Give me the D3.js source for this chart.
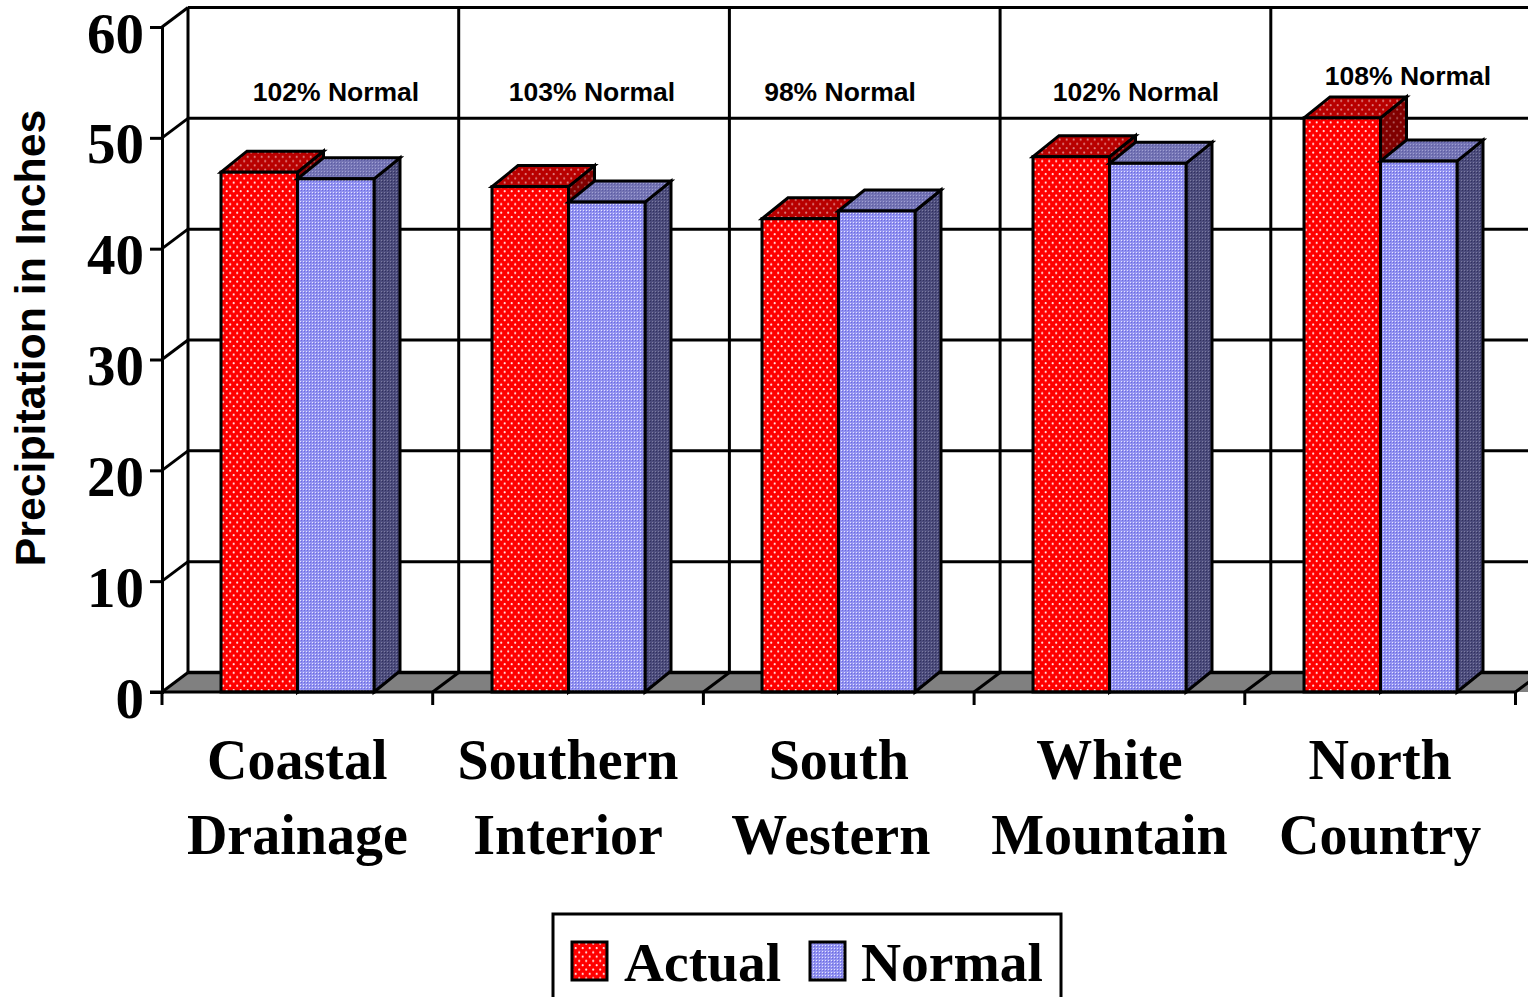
<!DOCTYPE html>
<html>
<head>
<meta charset="utf-8">
<script src="https://cdn.jsdelivr.net/npm/d3@7"></script>
<style>
  html, body { margin: 0; padding: 0; background: #fff; overflow: hidden; }
  svg { display: block; }
</style>
</head>
<body>
<div id="chart"></div>
<script>
// data
const regions = [["Coastal", "Drainage"], ["Southern", "Interior"], ["South", "Western"], ["White", "Mountain"], ["North", "Country"]];
const actual = [46.9, 45.6, 42.7, 48.3, 51.8];
const normal = [46.3, 44.2, 43.4, 47.7, 47.9];
const notes = ["102% Normal", "103% Normal", "98% Normal", "102% Normal", "108% Normal"];
const yTicks = [0, 10, 20, 30, 40, 50, 60];
const seriesNames = ["Actual", "Normal"];

// layout
const width = 1528, height = 997;
const depthX = 26, depthY = 19.5, barDepthY = 21;
const lineW = 3;
const serif = "'Liberation Serif', serif", sans = "'Liberation Sans', sans-serif";

const svg = d3.select("#chart").append("svg").attr("width", width).attr("height", height);

const x = d3.scaleBand().domain(d3.range(regions.length)).range([162, 1515.5]);
const bar = d3.scaleBand().domain([0, 1]).range([59, 59 + 153]);
const y = d3.scaleLinear().domain([0, 60]).range([692, 27]);

// patterns for the bar faces
const defs = svg.append("defs");
function dotted(id, base, dot, op) {
    const p = defs.append("pattern").attr("id", id).attr("patternUnits", "userSpaceOnUse")
        .attr("width", 7).attr("height", 8.6);
    p.append("rect").attr("width", 7).attr("height", 8.6).attr("fill", base);
    [[1.7, 2.1], [5.2, 6.4]].forEach(c => p.append("circle").attr("cx", c[0]).attr("cy", c[1])
        .attr("r", 1.1).attr("fill", dot).attr("opacity", op));
}
function checked(id, base, light, dark) {
    const p = defs.append("pattern").attr("id", id).attr("patternUnits", "userSpaceOnUse")
        .attr("width", 3).attr("height", 3);
    p.append("rect").attr("width", 3).attr("height", 3).attr("fill", base);
    p.append("rect").attr("width", 1).attr("height", 1).attr("fill", light);
    p.append("rect").attr("x", 1).attr("y", 1).attr("width", 1).attr("height", 1).attr("fill", dark);
}
dotted("redFront", "#ff0000", "#ffffff", 0.9);
dotted("redTop", "#b80000", "#ffffff", 0.5);
dotted("redSide", "#800000", "#ffffff", 0.35);
checked("blueFront", "#9292f0", "#e4e4ff", "#6a6ae0");
checked("blueTop", "#7474b4", "#a0a0d4", "#5c5ca4");
checked("blueSide", "#4c4c7c", "#7c7ca0", "#30305c");

const poly = pts => pts.map(p => p.join(",")).join(" ");

// floor
svg.append("polygon")
    .attr("points", poly([[162, y(0)], [162 + depthX, y(0) - depthY], [width + 30, y(0) - depthY], [width + 30 - depthX, y(0)]]))
    .attr("fill", "#808080");

// back wall grid
const wall = svg.append("g").attr("stroke", "#000").attr("stroke-width", lineW).attr("fill", "none");
wall.selectAll(".grid").data(yTicks).join("line").attr("class", "grid")
    .attr("x1", 162 + depthX).attr("x2", width)
    .attr("y1", d => y(d) - depthY).attr("y2", d => y(d) - depthY)
    .attr("stroke-width", d => d === 0 ? 3.6 : lineW);
wall.selectAll(".wallv").data(d3.range(regions.length)).join("line").attr("class", "wallv")
    .attr("x1", i => x(i) + depthX).attr("x2", i => x(i) + depthX)
    .attr("y1", y(60) - depthY).attr("y2", y(0) - depthY);

// side wall diagonals and floor diagonals
wall.selectAll(".diag").data(yTicks).join("line").attr("class", "diag")
    .attr("x1", 162).attr("y1", d => y(d))
    .attr("x2", 162 + depthX).attr("y2", d => y(d) - depthY);
wall.selectAll(".floord").data(d3.range(1, regions.length + 1)).join("line").attr("class", "floord")
    .attr("x1", i => x.range()[0] + x.step() * i).attr("y1", y(0))
    .attr("x2", i => x.range()[0] + x.step() * i + depthX).attr("y2", y(0) - depthY);

// bars, rounded so the fine patterns stay on whole pixels
const groups = svg.selectAll(".region").data(regions).join("g").attr("class", "region")
    .attr("transform", (d, i) => `translate(${Math.round(x(i))},0)`);

function drawBars(values, s, front, top, side) {
    const g = groups.append("g").attr("stroke", "#000").attr("stroke-width", lineW).attr("stroke-linejoin", "miter");
    const x0 = bar(s), w = bar.bandwidth();
    g.append("polygon").attr("fill", `url(#${side})`).attr("points", (d, i) => poly([
        [x0 + w, y(values[i])], [x0 + w + depthX, y(values[i]) - barDepthY],
        [x0 + w + depthX, y(0) - barDepthY], [x0 + w, y(0)]]));
    g.append("polygon").attr("fill", `url(#${top})`).attr("points", (d, i) => poly([
        [x0, y(values[i])], [x0 + depthX, y(values[i]) - barDepthY],
        [x0 + w + depthX, y(values[i]) - barDepthY], [x0 + w, y(values[i])]]));
    g.append("rect").attr("fill", `url(#${front})`).attr("x", x0).attr("width", w)
        .attr("y", (d, i) => y(values[i])).attr("height", (d, i) => y(0) - y(values[i]));
}
drawBars(actual, 0, "redFront", "redTop", "redSide");
drawBars(normal, 1, "blueFront", "blueTop", "blueSide");

// y axis
const yAxis = svg.append("g").attr("transform", "translate(162,0)")
    .call(d3.axisLeft(y).tickValues(yTicks).tickSize(12).tickPadding(6));
yAxis.select(".domain").attr("stroke", "#000").attr("stroke-width", lineW);
yAxis.selectAll("line").attr("stroke", "#000").attr("stroke-width", lineW);
yAxis.selectAll("text").attr("font-family", serif).attr("font-weight", "bold").attr("font-size", 57)
    .attr("fill", "#000").attr("dy", "0.44em");

// x axis
const xAxisLine = svg.append("g").attr("stroke", "#000").attr("stroke-width", lineW);
xAxisLine.append("line").attr("x1", 150).attr("x2", 1515.5).attr("y1", y(0)).attr("y2", y(0));
xAxisLine.selectAll(".tick").data(d3.range(regions.length + 1)).join("line").attr("class", "tick")
    .attr("x1", i => 162 + x.step() * i).attr("x2", i => 162 + x.step() * i)
    .attr("y1", y(0)).attr("y2", y(0) + 13);

// category labels, "Western" sits a little left of its column in the original
const lineShift = [[0, 0], [0, 0], [0, -8], [0, 0], [0, 0]];
const labels = svg.selectAll(".cat").data(regions).join("text").attr("class", "cat")
    .attr("text-anchor", "middle").attr("font-family", serif).attr("font-weight", "bold").attr("font-size", 56)
    .attr("fill", "#000");
labels.selectAll("tspan").data((d, i) => d.map((t, j) => ({ t, i, j }))).join("tspan")
    .attr("x", d => x(d.i) + x.bandwidth() / 2 + lineShift[d.i][d.j])
    .attr("y", d => 779 + d.j * 75)
    .text(d => d.t);

// percent-of-normal notes, hand placed in the original
const noteCentre = [336, 592, 840, 1136, 1408];
const noteBase = [101, 101, 101, 101, 85];
svg.selectAll(".note").data(notes).join("text").attr("class", "note")
    .attr("x", (d, i) => noteCentre[i]).attr("y", (d, i) => noteBase[i])
    .attr("text-anchor", "middle").attr("font-family", sans).attr("font-weight", "bold").attr("font-size", 26.5)
    .attr("fill", "#000").text(d => d);

// y title
svg.append("text").attr("transform", "translate(45,338) rotate(-90)")
    .attr("text-anchor", "middle").attr("font-family", sans).attr("font-weight", "bold").attr("font-size", 42.8)
    .attr("fill", "#000").text("Precipitation in Inches");

// legend
const legend = svg.append("g");
legend.append("rect").attr("x", 553).attr("y", 914).attr("width", 508).attr("height", 100)
    .attr("fill", "#fff").attr("stroke", "#000").attr("stroke-width", lineW);
const keyX = [572, 810], keyText = [624, 861], keyFill = ["redFront", "blueFront"];
seriesNames.forEach((name, i) => {
    legend.append("rect").attr("x", keyX[i]).attr("y", 942).attr("width", 35).attr("height", 38)
        .attr("fill", `url(#${keyFill[i]})`).attr("stroke", "#000").attr("stroke-width", lineW);
    legend.append("text").attr("x", keyText[i]).attr("y", 981)
        .attr("font-family", serif).attr("font-weight", "bold").attr("font-size", 55.5)
        .attr("fill", "#000").text(name);
});
</script>
</body>
</html>
